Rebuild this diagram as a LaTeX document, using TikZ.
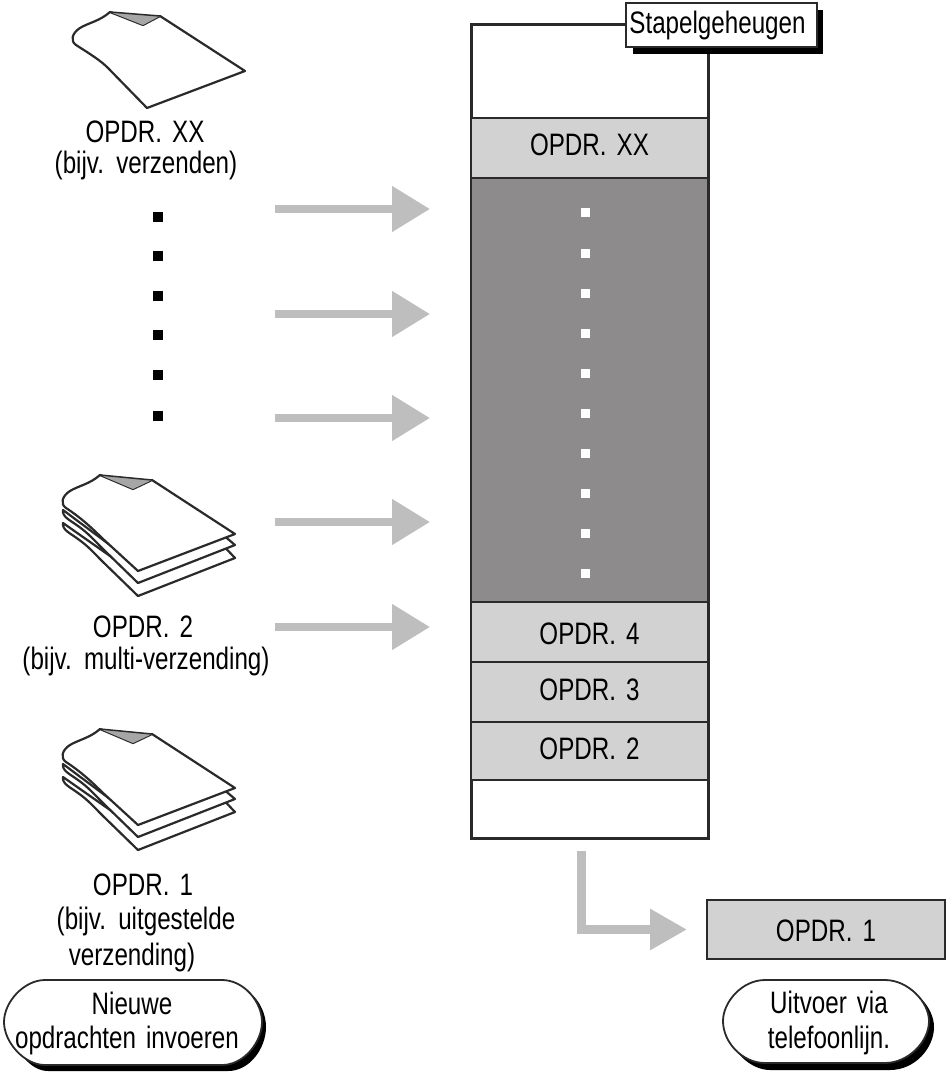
\documentclass[tikz,border=0pt]{standalone}
\usepackage{fontspec}
\setmainfont[FakeStretch=0.78,WordSpace=1.5]{Liberation Sans}
\usetikzlibrary{arrows.meta}
\definecolor{lnk}{HTML}{2A2A2A}
\definecolor{arrowgray}{HTML}{BEBEBE}
\definecolor{bandgray}{HTML}{D2D2D2}
\definecolor{darkband}{HTML}{8E8B8C}
\tikzset{
  txt/.style={font=\fontsize{31}{34}\selectfont,text=black,inner sep=0pt,align=center},
  band/.style={draw=lnk,line width=1.8pt,fill=bandgray,minimum width=237pt,inner sep=0pt,font=\fontsize{31}{34}\selectfont},
  flow/.style={draw=arrowgray,line width=8pt,-{Triangle[length=38pt,width=44pt]}},
  paper/.style={draw=lnk,line width=2.2pt,fill=white,line join=round},
  bdot/.style={fill=black,draw=none,minimum size=10pt,inner sep=0pt},
  wdot/.style={fill=white,draw=none,minimum size=9pt,inner sep=0pt},
  pillline/.style={draw=lnk,line width=1.8pt,fill=white},
  stackpic/.pic={
    \draw[paper] (63,523) .. controls (62,530) and (70,533) .. (78,539) .. controls (88,546) and (94,553) .. (102,561) -- (138,596) -- (235,558) -- (226,548.5) -- (130,570) -- cycle;
    \draw[paper] (63,510) .. controls (62,517) and (70,520) .. (78,526) .. controls (88,533) and (94,540) .. (102,548) -- (138,583) -- (235,545) -- (226,537.4) -- (130,560) -- cycle;
    \draw[paper] (100,475) .. controls (90,484) and (78,486) .. (70,491) .. controls (62,496) and (60,504) .. (66,508) .. controls (80,517) and (92,528) .. (102,538) -- (138,571) -- (235,534) -- (152,480) -- (133,489) -- cycle;
    \fill[gray!70] (100,475) -- (152,480) -- (133,489) -- cycle;
    \draw[lnk,line width=1.5pt] (100,475) -- (152,480);
  }
}
\begin{document}
\begin{tikzpicture}[x=1pt,y=-1pt]
\useasboundingbox (0,0) rectangle (948,1075);
% single sheet
\draw[paper] (110,12) .. controls (100,21) and (88,23) .. (80,28) .. controls (72,33) and (70,41) .. (76,45) .. controls (90,54) and (100,60) .. (108,68) -- (147,108) -- (245,71) -- (160,16) -- (143,25) -- cycle;
\fill[gray!70] (110,12) -- (160,16) -- (143,25) -- cycle;
\draw[lnk,line width=1.5pt] (110,12) -- (160,16);
\node[txt] (t1) at (145,132) {OPDR. XX};
\node[txt] (t2) at (146,165) {(bijv. verzenden)};
% black dots
\foreach \n/\y in {1/217,2/256,3/296,4/335,5/375,6/416}
  \node[bdot] (b\n) at (158,\y) {};
% stacks
\pic (s1) at (0,0) {stackpic};
\pic (s2) at (0,254) {stackpic};
\node[txt] (t3) at (143,627) {OPDR. 2};
\node[txt] (t4) at (146,661) {(bijv. multi-verzending)};
\node[txt] (t5) at (143,885) {OPDR. 1};
\node[txt] (t6) at (146,921) {(bijv. uitgestelde};
\node[txt] (t7) at (132,957) {verzending)};
% pills
\fill[black] (48,985) -- (228,985) .. controls (252,985) and (266,1008) .. (266,1027) .. controls (266,1048) and (250,1071) .. (228,1071) -- (48,1071) .. controls (30,1071) and (15,1050) .. (10,1030) -- cycle;
\draw[pillline] (45,980) -- (222,980) .. controls (244,980) and (262,1002) .. (262,1022) .. controls (262,1042) and (244,1065) .. (222,1065) -- (45,1065) .. controls (24,1065) and (4,1042) .. (4,1022) .. controls (4,1002) and (24,980) .. (45,980) -- cycle;
\node[txt] (p1a) at (132,1003) {Nieuwe};
\node[txt] (p1b) at (127,1040) {opdrachten invoeren};
\fill[black] (770,985) -- (890,985) .. controls (915,985) and (934,1008) .. (934,1027) .. controls (934,1048) and (915,1070) .. (890,1070) -- (770,1070) .. controls (750,1070) and (730,1050) .. (728,1030) -- cycle;
\draw[pillline] (765,980) -- (885,980) .. controls (908,980) and (929,1002) .. (929,1021) .. controls (929,1042) and (908,1063) .. (885,1063) -- (765,1063) .. controls (742,1063) and (723,1042) .. (723,1021) .. controls (723,1002) and (742,980) .. (765,980) -- cycle;
\node[txt] (p2a) at (829,1002) {Uitvoer via};
\node[txt] (p2b) at (829,1040) {telefoonlijn.};
% memory stack
\node[draw=lnk,line width=3pt,fill=white,minimum width=237pt,minimum height=813pt,inner sep=0pt] (mem) at (589.5,431.5) {};
\node[band,minimum height=60pt,text depth=6pt] (bxx) at (589.5,148) {OPDR. XX};
\node[draw=lnk,line width=1.8pt,fill=darkband,minimum width=237pt,minimum height=424pt,inner sep=0pt] (dk) at (589.5,390) {};
\node[band,minimum height=60pt,text height=25pt] (b4) at (589.5,632) {OPDR. 4};
\node[band,minimum height=60pt,text depth=4pt] (b3) at (589.5,692) {OPDR.\ 3};
\node[band,minimum height=58pt,text depth=5pt] (b2) at (589.5,751) {OPDR.\ 2};
\foreach \n/\y in {1/213,2/253,3/293,4/333,5/373,6/413,7/453,8/493,9/533,10/573}
  \node[wdot] (w\n) at (585,\y) {};
% title
\fill[black] (633,10) rectangle (823,54);
\node[draw=lnk,line width=1.5pt,fill=white,minimum width=191pt,minimum height=44pt,inner sep=0pt,font=\fontsize{31}{34}\selectfont] (title) at (721.5,25) {\kern-8pt Stapelgeheugen};
% output
\node[band,minimum width=238pt,minimum height=59pt,text height=25pt] (out) at (826,929.5) {OPDR.\ 1};
% arrows
\foreach \n/\y in {1/209,2/314,3/418,4/522,5/627}{
  \coordinate (as\n) at (275,\y);
  \coordinate (ae\n) at (430,\y);
  \draw[flow] (as\n) -- (ae\n);
}
\coordinate (ls) at (581.5,851);
\coordinate (le) at (687,929.5);
\draw[flow,line width=9pt,-{Triangle[length=37pt,width=39pt]}] (ls) |- (le);
\end{tikzpicture}
\end{document}
